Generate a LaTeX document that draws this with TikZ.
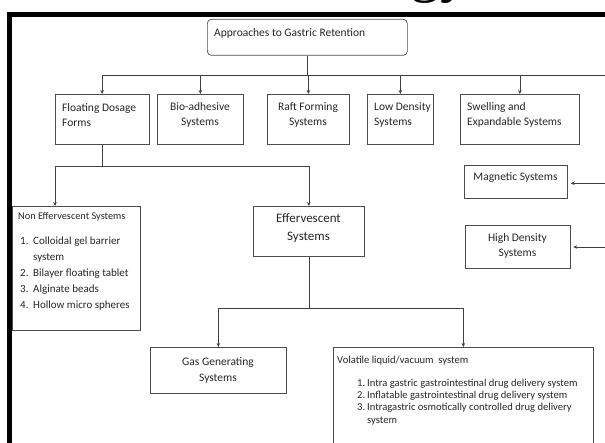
\documentclass[tikz,border=0pt]{standalone}
\usepackage{fontspec}
\setmainfont{Carlito}
\newfontfamily\headserif{Liberation Serif}
\usetikzlibrary{arrows.meta}

\newcommand{\listnum}[2][13pt]{\makebox[#1][l]{#2}}

\tikzset{
  box/.style={draw=black!70, line width=0.7pt, anchor=north west, inner sep=0pt},
  txt/.style={inner sep=0pt, text=black!85, font=\fontsize{11.5}{15.3}\selectfont},
  small/.style={inner sep=0pt, text=black!85, font=\fontsize{11}{16}\selectfont},
  link/.style={draw=black!75, line width=0.7pt}
}

\begin{document}
\begin{tikzpicture}[x=1pt, y=-1pt, >={Stealth[length=4pt,width=3.6pt]}]
    \useasboundingbox (0,0) rectangle (605,443);
    \clip (0,0) rectangle (605,443);
    % cut heading and frame
    \node (heading) [anchor=base west, inner sep=0pt, font=\headserif\fontsize{60}{60}\selectfont] at (410,-9) {gy};
    \draw[line width=4.5pt] (9.5,470) |- (630,14.5);

    % boxes
    \node (approach) [box, rounded corners=4pt, minimum width=200, minimum height=36] at (207,19) {};
    \node (floating) [box, minimum width=93.5, minimum height=50] at (55,94) {};
    \node (bioad) [box, minimum width=86, minimum height=50] at (157,94) {};
    \node (raft) [box, minimum width=82, minimum height=50] at (267,94) {};
    \node (lowden) [box, minimum width=66, minimum height=50] at (367,94) {};
    \node (swell) [box, minimum width=119, minimum height=50] at (460,94) {};
    \node (nonef) [box, minimum width=128, minimum height=124] at (12,206) {};
    \node (efferv) [box, minimum width=111, minimum height=50] at (253,206) {};
    \node (magnetic) [box, minimum width=103, minimum height=33] at (464,165) {};
    \node (highden) [box, minimum width=105, minimum height=43] at (465,225) {};
    \node (gas) [box, minimum width=136, minimum height=46] at (150,347) {};
    \node (volatile) [box, minimum width=260, minimum height=130] at (333,347) {};

    % texts
    \node (approachtxt) [txt, anchor=west] at (214,33) {Approaches to Gastric Retention};
    \node (floatingtxt) [txt, anchor=west, align=left] at (62,115) {Floating Dosage\\Forms};
    \node (bioadtxt) [txt, align=center] at (200,115) {Bio-adhesive\\Systems};
    \node (rafttxt) [txt, align=center] at (308,115) {Raft Forming\\Systems};
    \node (lowdentxt) [txt, anchor=west, align=left] at (374,115) {Low Density\\Systems};
    \node (swelltxt) [txt, anchor=west, align=left] at (467,115) {Swelling and\\Expandable Systems};
    \node (magnetictxt) [txt] at (515.5,178) {Magnetic Systems};
    \node (highdentxt) [txt, align=center] at (517.5,246) {High Density\\Systems};
    \node (effervtxt) [txt, align=center, font=\fontsize{13}{17.7}\selectfont] at (308.5,228) {Effervescent\\Systems};
    \node (gastxt) [txt, align=center, font=\fontsize{11.5}{16}\selectfont] at (218,370) {Gas Generating\\Systems};

    \node (noneftitle) [small, anchor=west, font=\fontsize{10.3}{16}\selectfont] at (18,217) {Non Effervescent Systems};
    \node (noneflist) [small, anchor=west, align=left] at (20,274) {%
      \listnum{1.}Colloidal gel barrier\\\hspace*{13pt}system\\
      \listnum{2.}Bilayer floating tablet\\
      \listnum{3.}Alginate beads\\
      \listnum{4.}Hollow micro spheres};
    \node (volatiletitle) [small, anchor=west, font=\fontsize{10.6}{16}\selectfont] at (337,361) {Volatile liquid/vacuum\ \ system};
    \node (volatilelist) [small, anchor=west, align=left, font=\fontsize{10.6}{12.3}\selectfont] at (357,402) {%
      \listnum[10pt]{1.}Intra gastric gastrointestinal drug delivery system\\
      \listnum[10pt]{2.}Inflatable gastrointestinal drug delivery system\\
      \listnum[10pt]{3.}Intragastric osmotically controlled drug delivery\\\hspace*{10pt}system};

    % connectors
    \coordinate (bus) at (308.6,75.7);
    \coordinate (busend) at (606,75.7);
    \draw[link] (approach.south) -- (approach.south |- bus);
    \draw[link] (floating.north |- bus) -- (busend);
    \foreach \n in {floating,bioad,raft,lowden,swell}
      \draw[link,->] (\n.north |- bus) -- (\n.north);

    \coordinate (fork) at (55,166.7);
    \draw[link] (floating.south) -- (floating.south |- fork);
    \draw[link,->] (fork) -- (fork |- nonef.north);
    \draw[link,->] (fork) -| (efferv.north);

    \path (efferv.south) ++(0,51.5) coordinate (fork2);
    \draw[link] (efferv.south) -- (fork2);
    \draw[link,->] (fork2) -| (gas.north);
    \draw[link,->] (fork2) -| (volatile.north);

    \coordinate (magin) at (606,183.3);
    \coordinate (highin) at (606,247);
    \draw[link,->,shorten >=3pt] (magin) -- (magin -| magnetic.east);
    \draw[link,->,shorten >=2.5pt] (highin) -- (highin -| highden.east);
\end{tikzpicture}
\end{document}
